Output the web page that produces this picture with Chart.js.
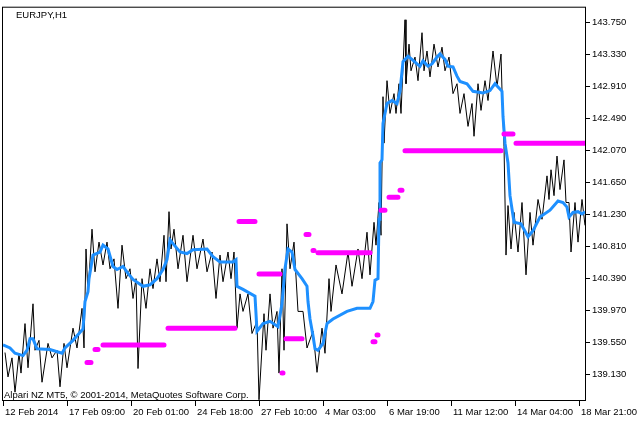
<!DOCTYPE html>
<html>
<head>
<meta charset="utf-8">
<script src="https://cdn.jsdelivr.net/npm/chart.js@4"></script>
<style>
  html, body { margin: 0; padding: 0; background: #fff; }
  canvas { display: block; }
</style>
</head>
<body>
<canvas id="grafico" width="638" height="425"></canvas>
<script>
// Textos
const titulo = "EURJPY,H1";
const copyright = "Alpari NZ MT5, \u00a9 2001-2014, MetaQuotes Software Corp.";

// Eje X: barras horarias (indice de barra) y sus etiquetas
const barrasTick = [0, 64, 128, 192, 256, 320, 384, 448, 512, 576];
const etiquetasX = ["12 Feb 2014", "17 Feb 09:00", "20 Feb 01:00", "24 Feb 18:00", "27 Feb 10:00",
  "4 Mar 03:00", "6 Mar 19:00", "11 Mar 12:00", "14 Mar 04:00", "18 Mar 21:00"];
const totalBarras = 583;

// Eje Y
const preciosTick = [139.13, 139.55, 139.97, 140.39, 140.81, 141.23, 141.65, 142.07, 142.49, 142.91, 143.33, 143.75];
const precioMin = 138.7835;
const precioMax = 143.9485;

// Precio (maximos / minimos leidos, en zigzag)
const barrasPrecio = [
  2, 5, 9, 12, 16, 18, 22, 25, 30, 32, 36, 39, 45, 49, 54, 57, 61, 64, 70, 74,
  79, 81, 83, 85, 89, 92, 96, 100, 104, 107, 111, 115, 119, 123, 127, 130, 133, 135, 139, 143,
  147, 150, 154, 157, 161, 163, 166, 168, 171, 175, 180, 184, 190, 194, 200, 204, 209, 213, 217, 220,
  225, 228, 231, 234, 237, 240, 245, 249, 254, 256, 261, 263, 267, 270, 274, 276, 279, 281, 284, 287,
  291, 295, 300, 304, 310, 314, 319, 322, 326, 328, 333, 339, 345, 349, 355, 359, 364, 367, 371, 373,
  376, 378, 380, 381, 384, 387, 391, 393, 396, 398, 402, 403, 406, 408, 412, 415, 419, 421, 424, 427,
  431, 435, 439, 442, 446, 450, 454, 457, 461, 465, 469, 471, 475, 478, 482, 485, 490, 494, 498, 499,
  501, 503, 505, 508, 511, 515, 519, 523, 527, 530, 535, 539, 544, 546, 548, 551, 554, 557, 561, 563,
  566, 568, 572, 575, 579, 582
];
const precios = [
  139.42, 139.10, 139.35, 138.90, 139.41, 139.15, 139.80, 139.22, 140.06, 139.45,
  139.58, 139.03, 139.54, 139.35, 139.45, 138.97, 139.54, 139.22, 139.74, 139.48,
  140.00, 139.48, 140.78, 140.19, 141.04, 140.48, 140.87, 140.57, 140.87, 140.52,
  140.65, 140.00, 140.83, 140.39, 140.52, 140.13, 140.39, 139.21, 140.39, 140.00,
  140.52, 140.26, 140.65, 140.35, 140.96, 140.35, 141.27, 140.78, 141.04, 140.52,
  140.96, 140.35, 140.96, 140.52, 140.91, 140.48, 140.74, 140.13, 140.70, 140.35,
  140.74, 140.39, 140.74, 139.74, 140.19, 139.96, 140.19, 139.67, 139.83, 138.80,
  139.93, 139.45, 140.19, 139.74, 139.96, 139.15, 140.52, 139.45, 141.11, 140.52,
  140.87, 139.96, 139.96, 139.48, 139.70, 139.16, 139.74, 139.41, 140.39, 139.96,
  140.57, 140.19, 140.74, 140.29, 140.78, 140.39, 141.00, 140.44, 141.13, 140.83,
  141.39, 140.96, 142.78, 142.17, 142.99, 142.56, 142.82, 142.56, 142.95, 142.56,
  143.79, 142.95, 143.47, 143.12, 143.30, 142.99, 143.62, 143.12, 143.38, 143.04,
  143.47, 143.17, 143.43, 143.12, 143.30, 142.82, 142.95, 142.56, 142.82, 142.39,
  142.69, 142.26, 142.95, 142.60, 142.99, 142.73, 143.38, 142.91, 143.34, 142.86,
  142.13, 140.70, 141.35, 140.78, 141.26, 140.74, 141.39, 140.44, 141.26, 140.83,
  141.43, 141.17, 141.74, 141.43, 141.82, 141.48, 142.00, 141.56, 141.95, 141.39,
  141.39, 140.74, 141.39, 140.87, 141.43, 141.09
];

// Linea azul (media)
const barrasMedia = [
  0, 7, 12, 20, 24, 27, 30, 34, 47, 59, 62, 70, 80, 82, 85, 86, 90, 97, 100, 105,
  110, 114, 120, 125, 130, 140, 147, 154, 160, 164, 167, 170, 177, 184, 190, 204, 210, 217, 230, 233,
  234, 240, 252, 254, 260, 267, 275, 279, 282, 285, 289, 292, 299, 304, 305, 307, 310, 312, 315, 320,
  324, 330, 344, 354, 367, 370, 372, 375, 376, 377, 379, 380, 384, 389, 394, 397, 400, 405, 409, 414,
  417, 420, 425, 429, 434, 437, 442, 445, 450, 454, 457, 464, 470, 480, 487, 492, 499, 500, 502, 505,
  507, 511, 518, 525, 530, 537, 547, 555, 560, 564, 566, 570, 575, 579, 582
];
const media = [
  139.52, 139.48, 139.41, 139.38, 139.45, 139.60, 139.60, 139.47, 139.46, 139.41,
  139.48, 139.58, 139.73, 140.09, 140.22, 140.39, 140.70, 140.74, 140.83, 140.78,
  140.55, 140.51, 140.55, 140.46, 140.38, 140.29, 140.31, 140.39, 140.51, 140.64,
  140.90, 140.85, 140.74, 140.72, 140.77, 140.78, 140.68, 140.61, 140.61, 140.64,
  140.29, 140.25, 140.16, 139.70, 139.80, 139.83, 139.76, 140.06, 140.52, 140.78,
  140.74, 140.51, 140.39, 140.29, 140.09, 139.86, 139.64, 139.47, 139.45, 139.54,
  139.80, 139.86, 139.96, 140.00, 140.00, 140.09, 140.37, 140.39, 141.17, 141.91,
  141.95, 142.43, 142.69, 142.73, 142.69, 142.85, 143.24, 143.31, 143.27, 143.21,
  143.18, 143.25, 143.18, 143.21, 143.30, 143.34, 143.27, 143.18, 143.17, 143.05,
  142.98, 142.95, 142.85, 142.83, 142.86, 142.95, 142.85, 142.52, 142.17, 141.91,
  141.48, 141.13, 141.11, 140.94, 141.02, 141.20, 141.29, 141.41, 141.39, 141.33,
  141.20, 141.26, 141.27, 141.24, 141.27
];

// Niveles magenta: barra inicial, barra final, precio
const nivelInicio = [84, 92, 100, 165, 236, 256, 279, 283, 303, 310, 315, 370, 374, 378, 386, 397, 402, 501, 513];
const nivelFin    = [88, 95, 161, 232, 252, 277, 280, 299, 306, 311, 367, 372, 375, 382, 395, 399, 498, 510, 584];
const nivelPrecio = [139.29, 139.46, 139.52, 139.74, 141.14, 140.45, 139.15, 139.60, 140.97, 140.76,
  140.73, 139.56, 139.65, 141.29, 141.46, 141.55, 142.07, 142.29, 142.17];

const fuente = { family: '"Liberation Sans", Arial, sans-serif', size: 9.5 };

// Datos para Chart.js
const puntosPrecio = barrasPrecio.map((b, i) => ({ x: b, y: precios[i] }));
const puntosMedia = barrasMedia.map((b, i) => ({ x: b, y: media[i] }));
const puntosNiveles = [];
nivelPrecio.forEach((p, i) => {
  puntosNiveles.push({ x: nivelInicio[i], y: p });
  puntosNiveles.push({ x: nivelFin[i], y: p });
  puntosNiveles.push({ x: nivelFin[i], y: null });
});

// Marco y textos
const marco = {
  id: "marco",
  afterDraw(chart) {
    const { ctx, chartArea: a } = chart;
    ctx.save();
    ctx.strokeStyle = "#000";
    ctx.lineWidth = 1;
    ctx.strokeRect(a.left - 0.5, a.top - 0.5, a.right - a.left, a.bottom - a.top);
    ctx.fillStyle = "#000";
    ctx.font = fuente.size + "px " + fuente.family;
    ctx.textBaseline = "middle";
    ctx.textAlign = "left";
    ctx.fillText(titulo, a.left + 13, a.top + 8);
    ctx.fillText(copyright, a.left + 1, a.bottom - 6);
    ctx.restore();
  }
};

const ctx = document.getElementById("grafico").getContext("2d");
new Chart(ctx, {
  type: "line",
  data: {
    datasets: [
      {
        data: puntosNiveles,
        borderColor: "#ff00ff",
        borderWidth: 5,
        borderCapStyle: "round",
        pointRadius: 0,
        spanGaps: false
      },
      {
        data: puntosMedia,
        borderColor: "#1e90ff",
        borderWidth: 3,
        pointRadius: 0
      },
      {
        data: puntosPrecio,
        borderColor: "#000",
        borderWidth: 1,
        pointRadius: 0
      }
    ]
  },
  options: {
    responsive: false,
    animation: false,
    devicePixelRatio: 1,
    layout: { padding: { left: 3, top: 3, right: 0, bottom: 0 } },
    plugins: { legend: { display: false }, tooltip: { enabled: false } },
    elements: { line: { tension: 0 } },
    scales: {
      x: {
        type: "linear",
        min: 0,
        max: totalBarras,
        afterBuildTicks: s => { s.ticks = barrasTick.map(v => ({ value: v })); },
        afterFit: s => { s.height = 24; },
        border: { display: false },
        grid: { drawOnChartArea: false, drawTicks: true, tickLength: 5, color: "#000" },
        ticks: {
          autoSkip: false,
          maxRotation: 0,
          align: "start",
          labelOffset: 2,
          padding: 1,
          color: "#000",
          font: fuente,
          callback: (v, i) => etiquetasX[i]
        }
      },
      y: {
        type: "linear",
        position: "right",
        min: precioMin,
        max: precioMax,
        afterBuildTicks: s => { s.ticks = preciosTick.map(v => ({ value: v })); },
        afterFit: s => { s.width = 52; },
        border: { display: false },
        grid: { drawOnChartArea: false, drawTicks: true, tickLength: 4, color: "#000" },
        ticks: {
          padding: 2,
          color: "#000",
          font: fuente,
          callback: v => Number(v).toFixed(3)
        }
      }
    }
  },
  plugins: [marco]
});
</script>
</body>
</html>
